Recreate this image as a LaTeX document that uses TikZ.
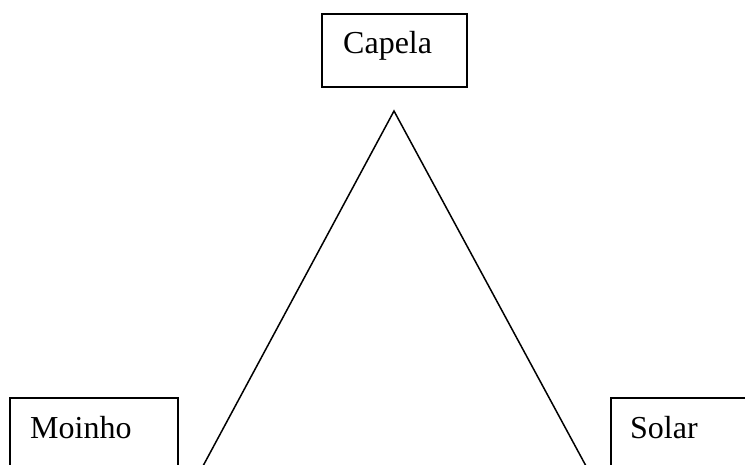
\documentclass[tikz,border=0pt]{standalone}
\usepackage{fontspec}
\setmainfont{Liberation Serif}
\begin{document}
\begin{tikzpicture}[x=1pt,y=-1pt,
  box/.style={draw=black, line width=2pt, rectangle, inner sep=0pt, anchor=north west},
  lbl/.style={anchor=base west, inner sep=0pt, font=\fontsize{32}{38}\selectfont},
  edge/.style={draw=black, line width=1.5pt}]
\useasboundingbox (0,0) rectangle (745,465);
\clip (0,0) rectangle (745,465);
\node[box, minimum width=145pt, minimum height=73pt] (capela) at (321,13) {};
\node[lbl] (tcapela) at (343,54) {Capela};
\node[box, minimum width=168pt, minimum height=100pt] (moinho) at (9,397) {};
\node[lbl] (tmoinho) at (30,438) {Moinho};
\node[box, minimum width=160pt, minimum height=100pt] (solar) at (610,397) {};
\node[lbl] (tsolar) at (630,438) {Solar};
\coordinate (apex) at (394,111);
\coordinate (bl) at (203,466);
\coordinate (br) at (586,466);
\draw[edge] (bl) -- (apex) -- (br);
\end{tikzpicture}
\end{document}
